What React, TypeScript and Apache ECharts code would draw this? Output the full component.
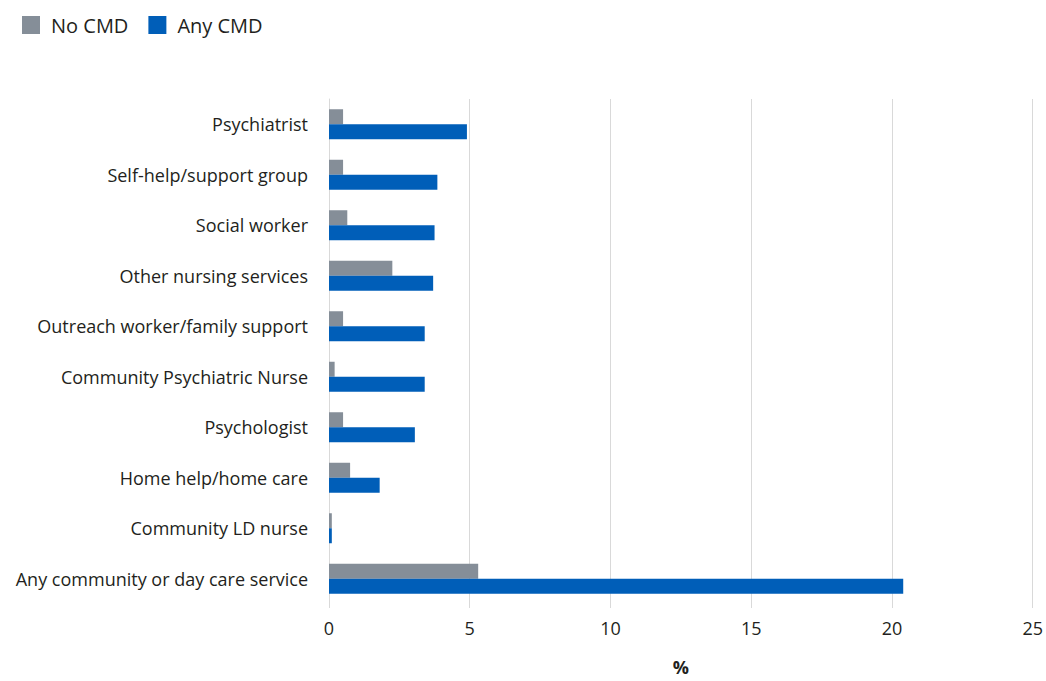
import React, { useEffect, useRef } from "react";
import * as echarts from "echarts";

const categories = [
  "Psychiatrist",
  "Self-help/support group",
  "Social worker",
  "Other nursing services",
  "Outreach worker/family support",
  "Community Psychiatric Nurse",
  "Psychologist",
  "Home help/home care",
  "Community LD nurse",
  "Any community or day care service",
];
const noCmd = [0.5, 0.5, 0.65, 2.25, 0.5, 0.2, 0.5, 0.75, 0.1, 5.3];
const anyCmd = [4.9, 3.85, 3.75, 3.7, 3.4, 3.4, 3.05, 1.8, 0.1, 20.4];
const xTicks = { min: 0, max: 25, interval: 5 };

const FONT = "'Open Sans', 'Noto Sans', sans-serif";
const TEXT = "#231f20";

export default function App() {
  const ref = useRef<HTMLDivElement>(null);
  useEffect(() => {
    const chart = echarts.init(ref.current!, null, { renderer: "svg" });
    chart.setOption({
      animation: false,
      textStyle: { fontFamily: FONT },
      legend: {
        left: 17,
        top: 10,
        itemWidth: 18,
        itemHeight: 18,
        itemGap: 20,
        icon: "rect",
        textStyle: { fontSize: 20, color: TEXT, fontFamily: FONT, padding: [0, 0, 0, 6] },
        data: ["No CMD", "Any CMD"],
      },
      grid: { left: 329, right: 12, top: 99, bottom: 70 },
      xAxis: {
        type: "value",
        min: xTicks.min,
        max: xTicks.max,
        interval: xTicks.interval,
        name: "%",
        nameLocation: "middle",
        nameGap: 54,
        nameTextStyle: { fontSize: 18, fontWeight: "bold", color: TEXT, fontFamily: FONT },
        axisLine: { show: false },
        axisTick: { show: true, length: 4, lineStyle: { color: "#d9d9d9" } },
        splitLine: { show: true, lineStyle: { color: "#d9d9d9", width: 1 } },
        axisLabel: { fontSize: 18, color: TEXT, margin: 15, fontFamily: FONT },
      },
      yAxis: {
        type: "category",
        inverse: true,
        data: categories,
        axisLine: { show: true, lineStyle: { color: "#d9d9d9" } },
        axisTick: { show: false },
        axisLabel: { fontSize: 18, color: TEXT, margin: 21, fontFamily: FONT },
      },
      series: [
        {
          name: "No CMD",
          type: "bar",
          data: noCmd,
          barWidth: 15,
          barGap: "0%",
          itemStyle: { color: "#858e98" },
        },
        {
          name: "Any CMD",
          type: "bar",
          data: anyCmd,
          barWidth: 15,
          barGap: "0%",
          itemStyle: { color: "#005eb8" },
        },
      ],
    });
    return () => chart.dispose();
  }, []);
  return (
    <div
      ref={ref}
      style={{ position: "fixed", left: 0, top: 0, width: 1046, height: 681, background: "#fff" }}
    />
  );
}
